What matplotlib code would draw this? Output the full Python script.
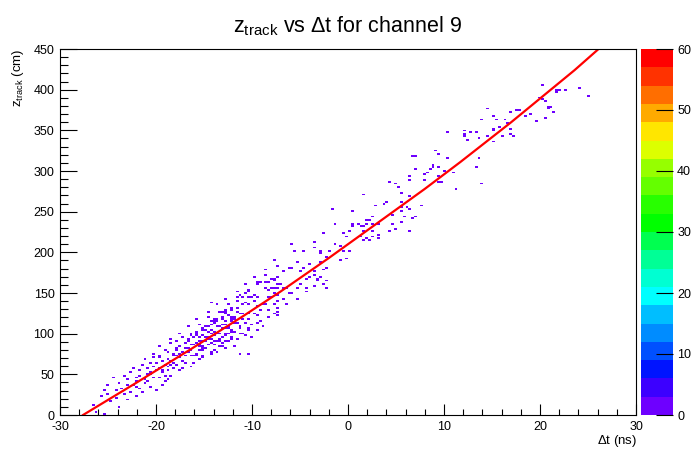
import numpy as np
import matplotlib
matplotlib.use('Agg')
import matplotlib.pyplot as plt
from matplotlib.colors import ListedColormap, BoundaryNorm
from matplotlib.ticker import MultipleLocator

plt.rcParams['font.family'] = ['Liberation Sans', 'DejaVu Sans']
plt.rcParams['mathtext.fontset'] = 'custom'
plt.rcParams['mathtext.rm'] = 'Liberation Sans'
plt.rcParams['mathtext.it'] = 'Liberation Sans:italic'
plt.rcParams['axes.unicode_minus'] = False

# hits (dt [ns], z_track [cm]), grouped by region
hits_low = [
    (-26.6, 12), (-26.2, 3),
    (-25.8, 24), (-25.5, 31), (-25.3, 1), (-25.1, 37),
    (-25.0, 26), (-24.8, 16), (-24.5, 45), (-24.3, 30), (-24.1, 21),
    (-23.9, 9), (-23.8, 40), (-23.6, 33), (-23.4, 48), (-23.3, 25), (-23.1, 38), (-23.0, 19),
    (-22.9, 44), (-22.7, 29), (-22.6, 52), (-22.4, 36), (-22.3, 58), (-22.2, 23), (-22.1, 41), (-22.0, 47),
    (-21.9, 33), (-21.8, 55), (-21.7, 49), (-21.5, 62), (-21.4, 27), (-21.3, 44), (-21.2, 39), (-21.1, 68),
    (-21.0, 51), (-22.0, 35),
    (-20.9, 58), (-20.8, 42), (-20.7, 64), (-20.6, 35), (-20.5, 53), (-20.4, 71), (-20.3, 47), (-20.2, 60),
    (-20.1, 30), (-20.0, 56), (-20.6, 50), (-20.3, 76),
    (-19.9, 63), (-19.8, 45), (-19.7, 70), (-19.6, 58), (-19.5, 38), (-19.4, 66), (-19.3, 52), (-19.2, 79),
    (-19.1, 61), (-19.0, 48), (-19.8, 85), (-19.5, 56), (-19.2, 42), (-19.6, 73),
    (-18.9, 69), (-18.8, 55), (-18.7, 77), (-18.6, 62), (-18.5, 88), (-18.4, 49), (-18.3, 72), (-18.2, 65),
    (-18.1, 58), (-18.0, 81), (-18.7, 44), (-18.4, 93), (-18.9, 60), (-18.2, 75), (-18.5, 67),
    (-17.9, 74), (-17.8, 62), (-17.7, 85), (-17.6, 70), (-17.5, 54), (-17.4, 95), (-17.3, 78), (-17.2, 66),
    (-17.1, 88), (-17.0, 72), (-17.6, 101), (-17.3, 58), (-17.8, 80), (-17.1, 64), (-17.5, 76), (-17.9, 90),
]

hits_mid = [
    (-9.17, 162), (-9.51, 161), (-8.3, 163), (-7.6, 166), (-7.43, 161), (-7.26, 156), (-7.95, 156),
    (-8.3, 153), (-7.6, 150), (-7.43, 148), (-8.12, 146), (-7.26, 141), (-7.78, 137), (-8.47, 137),
    (-10.73, 150), (-10.28, 152), (-11.25, 148), (-10.9, 146), (-10.21, 144), (-9.51, 146), (-9.86, 141),
    (-11.42, 141), (-10.9, 137), (-10.21, 135), (-9.51, 133), (-8.82, 135), (-9.17, 129), (-8.3, 129),
    (-7.43, 131), (-7.78, 125), (-7.26, 123), (-14.37, 138), (-13.16, 127), (-12.64, 129), (-12.29, 132),
    (-12.46, 123), (-12.98, 121), (-11.94, 121), (-11.42, 127), (-10.9, 125), (-10.38, 125), (-9.86, 124),
    (-9.34, 123), (-10.21, 119), (-11.08, 117), (-11.6, 113), (-10.73, 113), (-10.03, 111), (-9.17, 115),
    (-8.82, 109), (-9.51, 105), (-10.38, 105), (-11.25, 107), (-12.12, 115), (-12.64, 115), (-13.16, 117),
    (-13.68, 119), (-14.03, 115), (-14.37, 111), (-13.5, 109), (-12.81, 107), (-12.29, 105), (-11.77, 103),
    (-11.08, 100), (-10.55, 98), (-10.03, 96), (-11.42, 94), (-12.12, 94), (-12.81, 100), (-13.5, 100),
    (-14.03, 103), (-14.72, 105), (-15.24, 107), (-15.76, 103), (-15.07, 98), (-14.55, 96), (-14.03, 92),
    (-13.33, 92), (-12.64, 90), (-11.94, 84), (-12.64, 82), (-13.16, 84), (-13.85, 86), (-14.37, 88),
    (-14.9, 90), (-15.41, 92), (-16.11, 96), (-16.46, 98), (-16.63, 92), (-15.94, 86), (-15.07, 84),
    (-15.59, 80), (-16.28, 80), (-16.8, 82), (-16.98, 72), (-16.46, 73), (-15.76, 73), (-15.07, 70),
    (-14.37, 76), (-13.68, 78), (-10.38, 76), (-11.77, 84), (-11.25, 76),
    (-15.9, 88), (-15.8, 75), (-15.7, 97), (-15.6, 84), (-15.5, 112), (-15.4, 69), (-15.3, 92), (-15.2, 80),
    (-15.1, 104), (-15.0, 90), (-15.7, 118), (-15.5, 86), (-15.2, 73), (-15.9, 99), (-15.4, 95), (-15.1, 83),
    (-15.6, 91),
    (-14.9, 96), (-14.8, 82), (-14.7, 108), (-14.6, 93), (-14.5, 120), (-14.4, 77), (-14.3, 101), (-14.2, 89),
    (-14.1, 113), (-14.0, 97), (-14.7, 127), (-14.5, 86), (-14.2, 105), (-14.9, 110), (-14.4, 94), (-14.1, 80),
    (-14.6, 102), (-14.3, 116),
    (-13.9, 103), (-13.8, 90), (-13.7, 115), (-13.6, 99), (-13.5, 128), (-13.4, 84), (-13.3, 109), (-13.2, 96),
    (-13.1, 121), (-13.0, 106), (-13.7, 135), (-13.5, 93), (-13.2, 112), (-13.9, 118), (-13.4, 101),
    (-13.1, 88), (-13.6, 108),
    (-12.9, 111), (-12.8, 97), (-12.7, 124), (-12.6, 107), (-12.5, 137), (-12.4, 92), (-12.3, 117),
    (-12.2, 103), (-12.1, 129), (-12.0, 113), (-12.7, 143), (-12.4, 100), (-12.2, 120), (-12.9, 126),
    (-12.5, 109), (-12.1, 95),
    (-16.9, 82), (-16.7, 93), (-16.6, 77), (-16.5, 60), (-16.4, 87), (-16.3, 100), (-16.2, 73), (-16.0, 95),
    (-16.8, 108), (-16.2, 65),
    (-11.9, 118), (-11.7, 131), (-11.5, 146), (-11.4, 99), (-11.3, 124), (-11.1, 137), (-11.7, 152),
    (-11.2, 110), (-10.7, 139), (-10.5, 155), (-10.4, 106), (-10.1, 145), (-10.7, 160), (-9.7, 147),
    (-9.5, 163), (-9.4, 114), (-9.0, 136), (-9.7, 170), (-8.7, 156), (-8.5, 172), (-8.4, 121), (-8.0, 144),
    (-8.6, 178), (-7.5, 183), (-7.4, 128), (-7.7, 190),
]

hits_center = [
    (1.5, 272), (2.8, 258), (0.4, 250), (-1.7, 254), (2.3, 240), (1.9, 236), (-1.25, 234), (0.4, 235),
    (0.55, 232), (1.0, 235), (1.25, 232), (2.6, 236), (3.0, 234), (-2.6, 223), (-0.5, 223), (0.03, 225),
    (-0.1, 219), (1.25, 219), (1.6, 215), (1.95, 217), (2.3, 215), (2.5, 219), (3.0, 217), (-3.6, 213),
    (-5.9, 210), (-5.5, 201), (-4.6, 201), (-2.9, 199), (-2.7, 201), (-1.9, 201), (-3.6, 205), (-1.35, 211),
    (-0.8, 209), (-0.5, 201), (0.1, 202), (-0.3, 193), (-0.8, 190), (-2.2, 195), (-2.9, 188), (-2.2, 182),
    (-2.6, 179), (-5.3, 188), (-4.65, 182), (-4.1, 186), (-3.4, 176), (-5.0, 176), (-5.7, 182), (-6.2, 182),
    (-6.9, 177), (-7.3, 169), (-8.1, 167), (-7.6, 168), (-8.65, 163), (-8.5, 157), (-4.3, 168), (-4.0, 169),
    (-3.6, 172), (-3.3, 166), (-3.1, 168), (-2.7, 169), (-5.0, 160), (-4.3, 157), (-3.4, 158), (-2.2, 156),
    (-2.6, 161), (-7.8, 157), (-7.1, 160), (-6.6, 156),
    (-6.9, 157), (-6.8, 142), (-6.4, 136), (-6.2, 149), (-5.8, 150), (-5.4, 143), (-5.2, 157), (-4.4, 151),
    (-3.4, 159), (-2.4, 166),
]

hits_high = [
    (4.2, 287), (5.1, 285), (5.2, 280), (5.6, 273), (6.5, 268), (4.0, 262), (3.85, 260), (5.4, 262),
    (7.7, 257), (5.6, 256), (6.1, 255), (4.7, 247), (5.4, 250), (6.3, 254), (6.8, 242), (7.15, 244),
    (2.6, 243), (2.1, 240), (1.6, 232), (1.5, 226), (4.55, 236), (5.4, 237), (5.76, 243), (4.9, 228),
    (6.46, 225), (4.4, 225), (2.5, 225), (3.0, 222),
    (6.8, 319), (7.0, 318), (9.0, 326), (9.2, 326), (9.6, 321), (10.2, 316), (8.7, 308), (8.7, 305),
    (7.15, 303), (8.4, 303), (8.2, 297), (9.6, 304), (9.9, 300), (8.0, 295), (7.9, 290), (6.3, 293),
    (6.5, 288), (9.6, 293), (9.8, 287), (9.5, 286), (11.1, 299), (13.4, 305), (11.3, 278), (12.2, 343),
    (12.4, 339), (10.4, 348),
    (14.6, 376), (13.8, 363), (15.0, 368), (15.5, 364), (16.2, 363), (16.9, 373), (17.4, 374), (17.7, 375),
    (12.0, 350), (12.7, 348), (13.2, 348), (13.75, 341), (14.4, 344), (15.0, 350), (15.2, 352), (15.8, 354),
    (17.05, 352), (17.05, 346), (16.7, 359), (18.3, 367), (19.1, 369), (19.6, 361), (19.8, 391), (20.5, 385),
    (20.7, 379), (20.9, 377), (21.4, 373), (21.7, 400), (22.0, 400), (22.6, 400), (24.0, 402), (24.9, 393),
    (20.3, 406), (13.6, 317), (13.8, 284), (20.2, 388), (21.7, 396), (21.2, 378), (20.5, 365), (16.0, 343),
    (17.2, 344), (15.1, 337), (12.2, 346),
]

# fitted curve, points
fit_dt = [-27.6, -22, -16.5, -11, -7, -2, 3.3, 8, 11.7, 17, 23.6, 26.1]
fit_z = [0, 40, 80, 121, 152, 193, 238, 278, 311, 360, 424, 450]

palette = ['#6e00ff', '#3c00ff', '#0014ff', '#0050ff', '#008cff', '#00beff', '#00ffff', '#00ffd2',
           '#00ff96', '#00ff50', '#00ff00', '#28ff00', '#64ff00', '#96ff00', '#dcff00', '#ffe600',
           '#ffaa00', '#ff6e00', '#ff3200', '#ff0000']

hits = hits_low + hits_mid + hits_center + hits_high
dt = np.array([h[0] for h in hits])
z = np.array([h[1] for h in hits])

counts, xe, ye = np.histogram2d(dt, z, bins=[200, 200], range=[[-30, 30], [0, 450]])
counts = np.ma.masked_equal(counts, 0)

fig = plt.figure(figsize=(6.97, 4.51), dpi=100)
ax = fig.add_axes([60 / 697, 1 - 415 / 451, 576 / 697, 366 / 451])

cmap = ListedColormap(palette)
norm = BoundaryNorm(np.arange(0, 63, 3), cmap.N)
mesh = ax.pcolormesh(xe, ye, counts.T, cmap=cmap, norm=norm, antialiased=True, edgecolors='none')
ax.plot(fit_dt, fit_z, color='red', lw=1.6)

ax.set_xlim(-30, 30)
ax.set_ylim(0, 450)
ax.xaxis.set_major_locator(MultipleLocator(10))
ax.xaxis.set_minor_locator(MultipleLocator(2))
ax.yaxis.set_major_locator(MultipleLocator(50))
ax.yaxis.set_minor_locator(MultipleLocator(10))
ax.tick_params(which='both', direction='in', top=False, right=False, width=0.8, labelsize=9)
ax.tick_params(axis='x', which='major', length=8, pad=4.5)
ax.tick_params(axis='x', which='minor', length=4)
ax.tick_params(axis='y', which='major', length=12, pad=4)
ax.tick_params(axis='y', which='minor', length=6)
for s in ax.spines.values():
    s.set_linewidth(0.8)

cax = fig.add_axes([641 / 697, 1 - 415 / 451, 32 / 697, 366 / 451])
cb = fig.colorbar(mesh, cax=cax, ticks=np.arange(0, 70, 10))
cb.outline.set_visible(False)
cax.tick_params(direction='in', length=12, width=0.8, labelsize=9, pad=3)
cax.minorticks_off()

fig.text(348 / 697, 1 - 26 / 451, r'z$_{\mathrm{track}}$ vs $\Delta$t for channel 9',
         ha='center', va='center', fontsize=15.5)
fig.text(637 / 697, 1 - 441 / 451, r'$\Delta$t (ns)', ha='right', va='center', fontsize=9.5)
fig.text(18 / 697, 1 - 48 / 451, r'z$_{\mathrm{track}}$ (cm)', ha='center', va='top',
         rotation=90, fontsize=9.5)

fig.savefig('out.png', dpi=100)
